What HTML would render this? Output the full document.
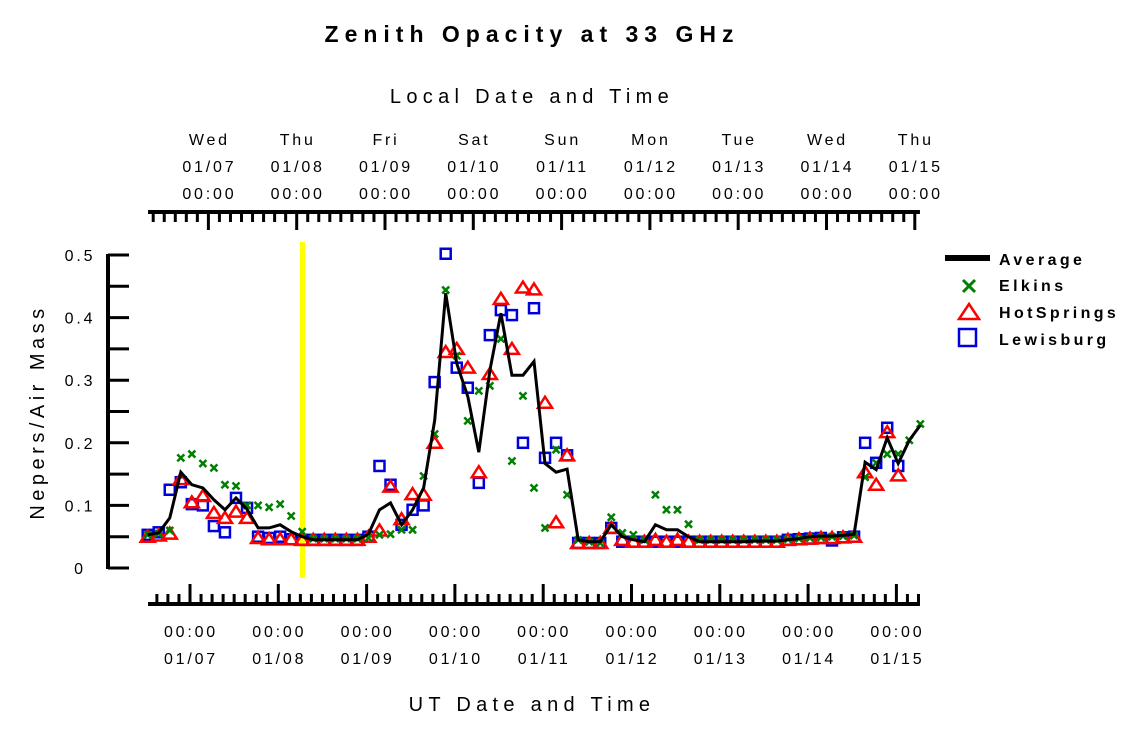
<!DOCTYPE html>
<html><head><meta charset="utf-8"><style>
body{margin:0;background:#fff}
svg{display:block;font-family:"Liberation Sans",sans-serif}
</style></head><body>
<svg id="chart" width="1125" height="731" viewBox="0 0 1125 731">
<text x="532" y="42" text-anchor="middle" font-size="23" font-weight="bold" letter-spacing="6">Zenith Opacity at 33 GHz</text>
<text x="532" y="103" text-anchor="middle" font-size="20" letter-spacing="5.3">Local Date and Time</text>
<text x="532" y="711" text-anchor="middle" font-size="20" letter-spacing="5.3">UT Date and Time</text>
<text transform="translate(44,412) rotate(-90)" text-anchor="middle" font-size="20" letter-spacing="4.5">Nepers/Air Mass</text>
<rect x="300" y="242" width="5" height="336" fill="#ffff00"/>
<g id="axes"></g>
<g id="series"></g>
<g>
<rect x="945" y="255" width="45" height="6" fill="#000"/>
<text x="999" y="265" font-size="16" font-weight="bold" letter-spacing="3.4">Average</text>
<path d="M963 280 L975 292 M975 280 L963 292" stroke="#008000" stroke-width="3"/>
<text x="999" y="291" font-size="16" font-weight="bold" letter-spacing="3.4">Elkins</text>
<path d="M969 304 L979 319 L959 319 Z" fill="none" stroke="#ff0000" stroke-width="2.5"/>
<text x="999" y="318" font-size="16" font-weight="bold" letter-spacing="3.4">HotSprings</text>
<rect x="959" y="329" width="17" height="17" fill="none" stroke="#0000dd" stroke-width="2.5"/>
<text x="999" y="345" font-size="16" font-weight="bold" letter-spacing="3.4">Lewisburg</text>
</g>
</svg>
<script>
const avgValues=[0.053,0.056,0.08,0.153,0.133,0.128,0.109,0.093,0.112,0.094,0.064,0.064,0.069,0.058,0.05,0.045,0.045,0.045,0.045,0.045,0.054,0.093,0.104,0.069,0.093,0.128,0.236,0.439,0.327,0.274,0.185,0.316,0.407,0.308,0.308,0.33,0.167,0.153,0.158,0.045,0.042,0.042,0.069,0.05,0.045,0.042,0.069,0.061,0.061,0.05,0.042,0.042,0.042,0.042,0.042,0.043,0.043,0.043,0.045,0.047,0.05,0.051,0.051,0.052,0.054,0.169,0.157,0.208,0.167,0.204,0.228];
const elkinsValues=[0.053,0.055,0.06,0.176,0.182,0.167,0.16,0.133,0.131,0.1,0.1,0.097,0.102,0.083,0.058,0.047,0.047,0.047,0.047,0.047,0.048,0.053,0.054,0.061,0.061,0.147,0.214,0.444,0.339,0.235,0.283,0.291,0.366,0.171,0.275,0.128,0.064,0.189,0.117,0.045,0.042,0.04,0.081,0.056,0.053,0.045,0.117,0.093,0.093,0.07,0.045,0.045,0.045,0.045,0.045,0.045,0.045,0.045,0.046,0.047,0.048,0.049,0.05,0.051,0.052,0.145,0.168,0.182,0.182,0.204,0.23];
const hotValues=[0.05,0.052,0.055,0.142,0.105,0.115,0.088,0.08,0.09,0.08,0.048,0.046,0.046,0.046,0.045,0.045,0.045,0.045,0.045,0.045,0.05,0.06,0.13,0.078,0.118,0.117,0.2,0.345,0.35,0.32,0.153,0.31,0.43,0.35,0.448,0.445,0.264,0.073,0.18,0.04,0.04,0.04,0.064,0.045,0.042,0.042,0.045,0.042,0.045,0.042,0.042,0.042,0.042,0.042,0.042,0.042,0.042,0.042,0.045,0.046,0.047,0.048,0.048,0.049,0.05,0.153,0.133,0.217,0.148,null,null];
const lewValues=[0.053,0.057,0.125,0.137,0.102,0.1,0.067,0.057,0.112,0.096,0.05,0.048,0.05,0.046,0.045,0.045,0.045,0.045,0.045,0.045,0.05,0.163,0.133,0.069,0.093,0.1,0.297,0.502,0.32,0.288,0.136,0.372,0.412,0.404,0.2,0.415,0.176,0.2,0.18,0.04,0.04,0.04,0.064,0.042,0.042,0.042,0.042,0.042,0.042,0.042,0.042,0.042,0.042,0.042,0.042,0.042,0.042,0.042,0.045,0.046,0.047,0.048,0.044,0.049,0.05,0.2,0.168,0.224,0.163,null,null];
const startHour=-11.5, stepHours=3;
const yTicks=[0,0.1,0.2,0.3,0.4,0.5];
const utDates=["01/07","01/08","01/09","01/10","01/11","01/12","01/13","01/14","01/15"];
const localDays=["Wed","Thu","Fri","Sat","Sun","Mon","Tue","Wed","Thu"];
const localOffset=5;

const NS="http://www.w3.org/2000/svg";
function X(h){return 190+h*88.3/24;}
function Y(v){return 568-v*626;}
function mk(tag,attrs,parent,txt){const e=document.createElementNS(NS,tag);for(const k in attrs)e.setAttribute(k,attrs[k]);if(txt!==undefined)e.textContent=txt;parent.appendChild(e);return e;}
const ax=document.getElementById('axes'), sg=document.getElementById('series');
const FS=16, LS=2.8;
let e=mk('line',{x1:108,y1:Y(0.5)-1,x2:108,y2:Y(0)+1,stroke:'#000','stroke-width':4},ax);


for(let v=0;v<=0.5001;v+=0.05){mk('line',{x1:108,y1:Y(v),x2:129,y2:Y(v),stroke:'#000','stroke-width':3},ax);}
yTicks.forEach(v=>{const t=mk('text',{x:80,y:Y(v)+6,'font-size':FS,'text-anchor':'middle','letter-spacing':LS},ax,v===0?'0':v.toFixed(1));

});
const hMin=-11.4,hMax=198.4;
e=mk('line',{x1:X(hMin),y1:604,x2:X(hMax),y2:604,stroke:'#000','stroke-width':4},ax);


for(let h=-9;h<=hMax;h+=3){const maj=h%24===0;mk('line',{x1:X(h),y1:maj?584:594,x2:X(h),y2:604,stroke:'#000','stroke-width':3},ax);}
utDates.forEach((d,i)=>{const x=X(i*24)+1;
let t=mk('text',{x:x,y:637,'font-size':FS,'text-anchor':'middle','letter-spacing':LS},ax,'00:00');


t=mk('text',{x:x,y:664,'font-size':FS,'text-anchor':'middle','letter-spacing':LS},ax,d);

});
e=mk('line',{x1:X(hMin),y1:212,x2:X(hMax),y2:212,stroke:'#000','stroke-width':4},ax);


for(let h=-10;h<=hMax;h+=3){const maj=(h-localOffset)%24===0;mk('line',{x1:X(h),y1:212,x2:X(h),y2:maj?230:222,stroke:'#000','stroke-width':3},ax);}
localDays.forEach((d,i)=>{const x=X(i*24+localOffset)+1;
let t=mk('text',{x:x,y:145,'font-size':FS,'text-anchor':'middle','letter-spacing':LS},ax,d);


t=mk('text',{x:x,y:172,'font-size':FS,'text-anchor':'middle','letter-spacing':LS},ax,utDates[i]);


t=mk('text',{x:x,y:199,'font-size':FS,'text-anchor':'middle','letter-spacing':LS},ax,'00:00');

});
function hx(i){return X(startHour+i*stepHours);}
lewValues.forEach((v,i)=>{if(v==null)return;const r=mk('rect',{x:hx(i)-5,y:Y(v)-5,width:10,height:10,fill:'none',stroke:'#0000dd','stroke-width':2.5},sg);

});
hotValues.forEach((v,i)=>{if(v==null)return;const x=hx(i),y=Y(v);const p=mk('path',{d:`M${x} ${y-6}L${x+7} ${y+5}L${x-7} ${y+5}Z`,fill:'none',stroke:'#ff0000','stroke-width':2.5},sg);

});
elkinsValues.forEach((v,i)=>{if(v==null)return;const x=hx(i),y=Y(v);const p=mk('path',{d:`M${x-3.5} ${y-3.5}L${x+3.5} ${y+3.5}M${x+3.5} ${y-3.5}L${x-3.5} ${y+3.5}`,stroke:'#008000','stroke-width':2.5},sg);

});
const pl=mk('polyline',{points:avgValues.map((v,i)=>hx(i).toFixed(1)+','+Y(v).toFixed(1)).join(' '),fill:'none',stroke:'#000','stroke-width':3,'stroke-linejoin':'miter'},sg);


</script>
</body></html>
